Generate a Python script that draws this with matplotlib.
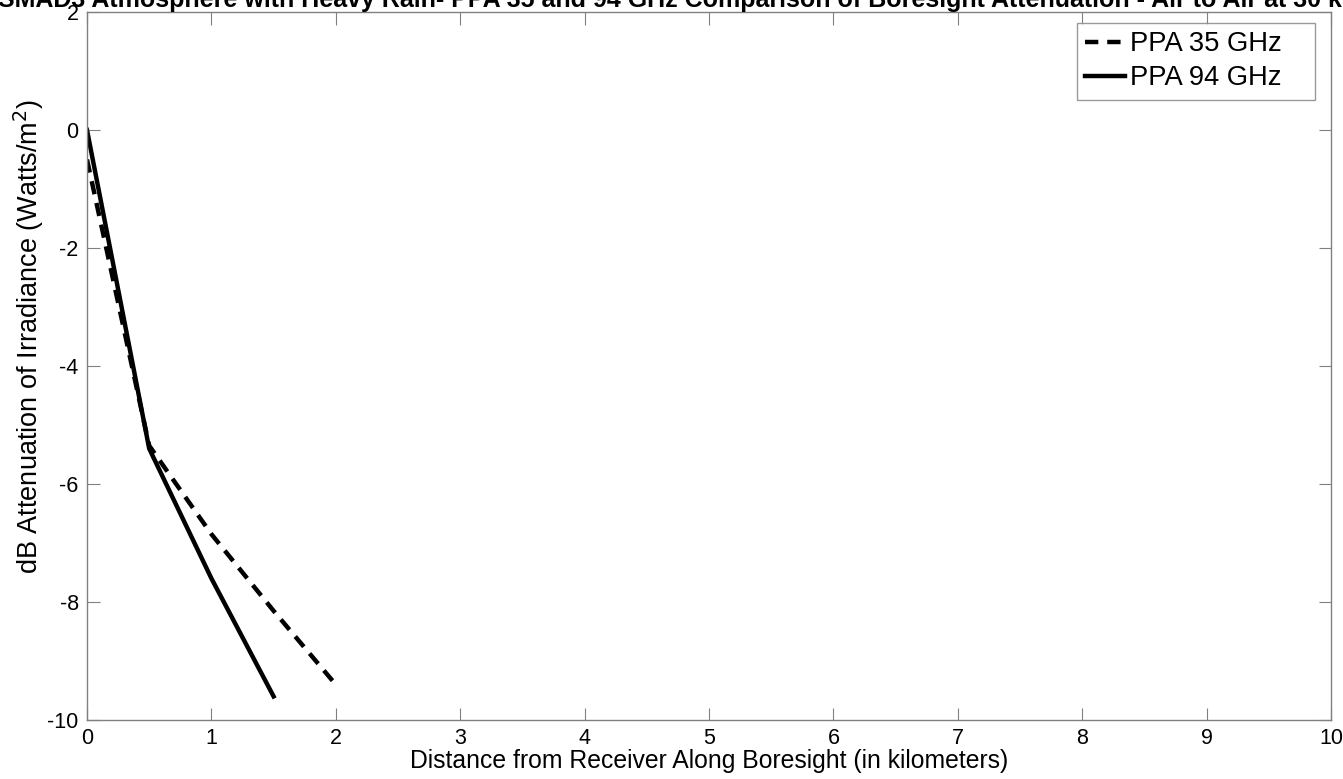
import matplotlib.pyplot as plt

plt.rcParams['font.family'] = ['Liberation Sans', 'DejaVu Sans']
plt.rcParams['axes.unicode_minus'] = False

# PPA 35 GHz (tracejado)
dist_35 = [0, 0.5, 1.0, 1.5, 2.0]
atten_35 = [-0.5, -5.35, -6.85, -8.15, -9.4]

# PPA 94 GHz (continua)
dist_94 = [0, 0.5, 1.0, 1.5]
atten_94 = [0, -5.4, -7.6, -9.6]

titulo = "SMAD3 Atmosphere with Heavy Rain- PPA 35 and 94 GHz Comparison of Boresight Attenuation - Air to Air at 30 km"

fig = plt.figure(figsize=(13.43, 7.79), dpi=100)
ax = fig.add_axes([87 / 1343, 59 / 779, 1244 / 1343, 708 / 779])

ax.plot(dist_35, atten_35, color='black', linestyle=(0, (3, 2)), linewidth=3.2, label='PPA 35 GHz')
ax.plot(dist_94, atten_94, color='black', linestyle='-', linewidth=3.2, label='PPA 94 GHz')

ax.set_xlim(0, 10)
ax.set_ylim(-10, 2)
ax.set_xticks(range(0, 11))
ax.set_yticks(range(-10, 3, 2))
ax.tick_params(direction='in', length=9, width=0.8, color='#808080', labelsize=15.5,
               top=True, right=True, pad=6)
for s in ax.spines.values():
    s.set_color('#808080')
    s.set_linewidth(1.0)

ax.set_xlabel('Distance from Receiver Along Boresight (in kilometers)', fontsize=17.8, labelpad=0)
ax.set_ylabel('dB Attenuation of Irradiance (Watts/m$^2$)', fontsize=19.5)
ax.yaxis.set_label_coords(-0.033, 0.541)

# titulo cortado no topo, como no original
fig.text(-2 / 1343, 1 - 7 / 779, titulo, fontsize=18, fontweight='bold', ha='left', va='baseline')

leg = ax.legend(loc='upper left', fontsize=19.7, frameon=True, fancybox=False,
                handlelength=1.45, handletextpad=0.18, borderpad=0.3, labelspacing=0.3,
                borderaxespad=0, mode='expand',
                bbox_to_anchor=((1077 - 87) / 1244, (720 - 23) / 708, 238 / 1244, 0))
leg.get_frame().set_edgecolor('#808080')
leg.get_frame().set_linewidth(1.0)

fig.savefig('out.png', dpi=100)
